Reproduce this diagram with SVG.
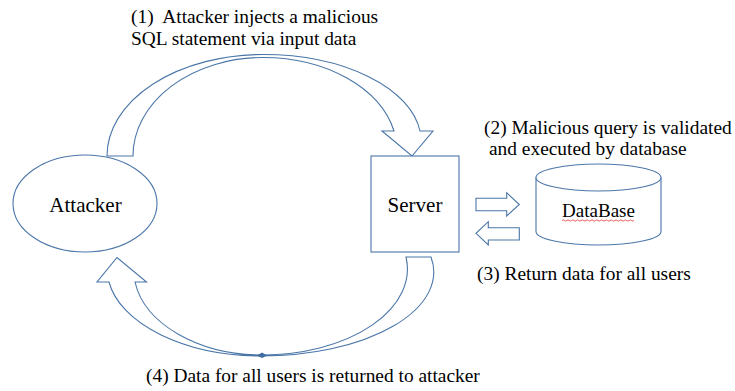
<svg xmlns="http://www.w3.org/2000/svg" width="735" height="391" viewBox="0 0 735 391">
<defs>
<style>
.shp{fill:#ffffff;stroke:#4a76a8;stroke-width:1.1;stroke-linejoin:miter}
.serif{font-family:"Liberation Serif","Times New Roman",Tinos,"Nimbus Roman","Nimbus Roman No9 L","DejaVu Serif","Noto Serif",serif;fill:#000000}
.lbl{font-size:19.4px;white-space:pre}
.nodetxt{font-size:21px;text-anchor:middle}
</style>
</defs>
<rect width="735" height="391" fill="#ffffff"/>

<g id="connectors">
  <path id="arrow-inject" class="shp" d="M107,156 A156,101.5 0 0 1 263,54.5 A158,86.5 0 0 1 420,131 L433,131 L412,156 L382,131 L394,131 A134,94 0 0 0 263,57.5 A130,98.5 0 0 0 133,156 Z"/>
  <path id="arrow-return-attacker" class="shp" d="M431,257 A172,84 0 0 1 262,356 A154.7,87 0 0 1 109,282 L97,282 L117,257.5 L146.5,282 L135,282 A128.5,86 0 0 0 262,355 A145.5,86 0 0 0 406,257 Z"/>
  <polygon id="arrow-joint" points="257,355.5 262,352.5 267,355.5 262,358" fill="#3f6c9e"/>
  <path id="arrow-to-db" class="shp" d="M476,198.3 L506.7,198.3 L506.7,192.7 L519.3,204.5 L506.7,216 L506.7,210.7 L476,210.7 Z"/>
  <path id="arrow-from-db" class="shp" d="M519.3,227.7 L488.3,227.7 L488.3,221.7 L476,233.3 L488.3,245 L488.3,240 L519.3,240 Z"/>
</g>

<g id="attacker">
  <ellipse class="shp" cx="85" cy="203.5" rx="72" ry="48.5"/>
  <text class="serif nodetxt" x="85.5" y="211.7">Attacker</text>
</g>

<g id="server">
  <rect class="shp" x="371" y="156" width="88" height="96"/>
  <text class="serif nodetxt" x="415" y="211.7">Server</text>
</g>

<g id="database">
  <path class="shp" d="M536,177.5 L536,231.5 A62.5,13.5 0 0 0 661,231.5 L661,177.5"/>
  <ellipse class="shp" cx="598.5" cy="177.5" rx="62.5" ry="13.5"/>
  <text class="serif" x="598.5" y="217" text-anchor="middle" font-size="19px">DataBase</text>
  <path d="M562,220.5 q1.2,-1.2 2.4,0 t2.4,0 t2.4,0 t2.4,0 t2.4,0 t2.4,0 t2.4,0 t2.4,0 t2.4,0 t2.4,0 t2.4,0 t2.4,0 t2.4,0 t2.4,0 t2.4,0 t2.4,0 t2.4,0 t2.4,0 t2.4,0 t2.4,0 t2.4,0 t2.4,0 t2.4,0 t2.4,0 t2.4,0 t2.4,0 t2.4,0 t2.4,0 t2.4,0 t2.4,0" fill="none" stroke="#e03030" stroke-width="0.8"/>
</g>

<g id="labels">
  <text class="serif lbl" x="131" y="23">(1)  Attacker injects a malicious</text>
  <text class="serif lbl" x="131" y="45">SQL statement via input data</text>
  <text class="serif lbl" x="484" y="134">(2) Malicious query is validated</text>
  <text class="serif lbl" x="489" y="155">and executed by database</text>
  <text class="serif lbl" x="477" y="280">(3) Return data for all users</text>
  <text class="serif lbl" x="146" y="382">(4) Data for all users is returned to attacker</text>
</g>
</svg>
